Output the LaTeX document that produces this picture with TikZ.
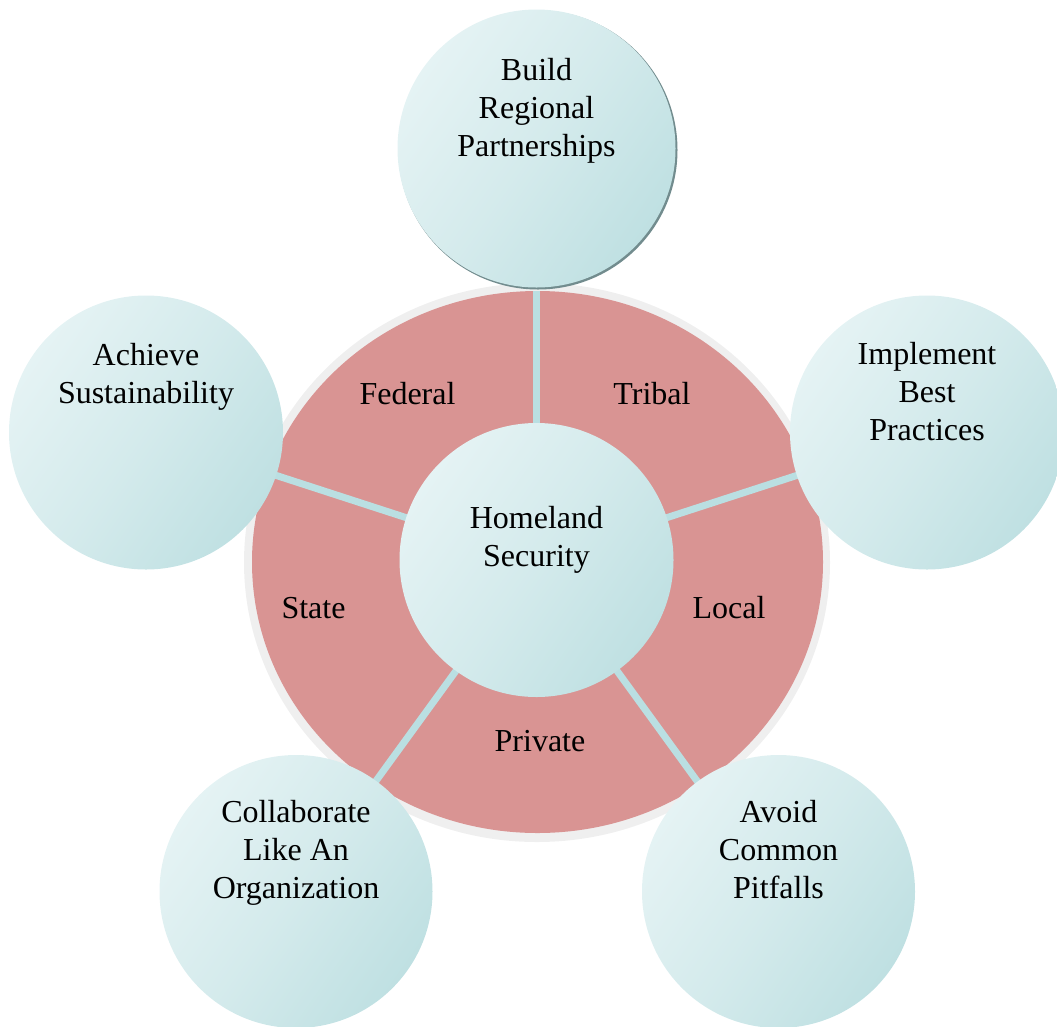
\documentclass[tikz,border=0pt]{standalone}
\usepackage{fontspec}
\setmainfont{Liberation Serif}
\usetikzlibrary{calc}
\definecolor{cLight}{HTML}{E5F3F4}
\definecolor{cDark}{HTML}{BFE0E2}
\definecolor{pinkfill}{HTML}{D99493}
\definecolor{ringgray}{HTML}{EFEFEF}
\definecolor{sepcol}{HTML}{BADFE2}
\definecolor{shadowcol}{HTML}{728C8E}
\tikzset{
  bubble/.style={circle, inner sep=0pt, minimum size=#1, top color=cLight, bottom color=cDark, middle color=cLight!55!cDark, shading angle=55, draw=none},
  lbl/.style={anchor=base, align=center, font=\fontsize{32}{37.8}\selectfont, text=black, inner sep=0pt},
  sep/.style={draw=sepcol, line width=7pt},
}
\begin{document}
\begin{tikzpicture}[x=1pt,y=-1pt]
\useasboundingbox (0,0) rectangle (1057,1026);
% big ring
\fill[ringgray] (537,562.5) ellipse [x radius=293, y radius=279.5];
\fill[pinkfill] (537.5,562) ellipse [x radius=285.5, y radius=271];
% separators
\coordinate (hub) at (536.5,560);
\begin{scope}
  \clip (537.5,562) ellipse [x radius=285.5, y radius=271];
  \foreach \a/\n in {90/s1,162/s2,234/s3,306/s4,18/s5} {
    \coordinate (\n) at ($(hub)+(-\a:320)$);
    \draw[sep] (hub) -- (\n);
  }
\end{scope}
% center
\node[bubble=274pt] (center) at (536.5,560) {};
% outer circles
\fill[shadowcol] (538,150) circle (139.5);
\node[bubble=278pt] (top) at (536.5,148.5) {};
\node[bubble=274pt] (left) at (146,432.5) {};
\node[bubble=274pt] (right) at (927,432.5) {};
\node[bubble=273pt] (bl) at (296,891.5) {};
\node[bubble=273pt] (br) at (778.5,891.5) {};
% texts (anchor = baseline of last line)
\node[lbl] (ttop) at (536.5,156) {Build\\Regional\\Partnerships};
\node[lbl] (tleft) at (146,403) {Achieve\\Sustainability};
\node[lbl] (tright) at (927,440.5) {Implement\\Best\\Practices};
\node[lbl] (tcenter) at (536.5,566.5) {Homeland\\Security};
\node[lbl] (tbl) at (296,898) {Collaborate\\Like An\\Organization};
\node[lbl] (tbr) at (778.5,898) {Avoid\\Common\\Pitfalls};
% segment labels
\node[lbl] (federal) at (407.5,404) {Federal};
\node[lbl] (tribal) at (652,404) {Tribal};
\node[lbl] (state) at (313.5,618) {State};
\node[lbl] (local) at (729,618) {Local};
\node[lbl] (private) at (540,751) {Private};
\end{tikzpicture}
\end{document}
